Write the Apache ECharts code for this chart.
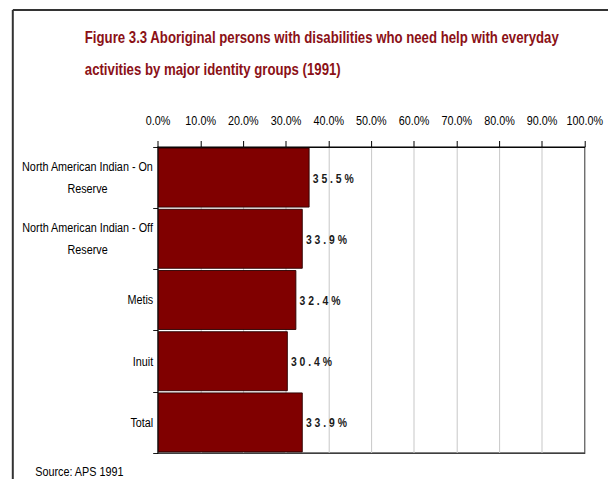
<!DOCTYPE html>
<html>
<head>
<meta charset="utf-8">
<script src="https://cdn.jsdelivr.net/npm/echarts@6/dist/echarts.min.js"></script>
<style>
  html, body { margin: 0; padding: 0; background: #fff; overflow: hidden; width: 608px; height: 479px; }
  /* The chart is laid out wide and squeezed horizontally to get condensed lettering */
  #chart { width: 760px; height: 479px; transform: scaleX(0.8); transform-origin: 0 0; }
</style>
</head>
<body>
<div id="chart"></div>
<script>
// Identity groups (top to bottom) and share needing help with everyday activities (%)
const categories = [
  'North American Indian - On\nReserve',
  'North American Indian - Off\nReserve',
  'Metis',
  'Inuit',
  'Total'
];
const values = [35.5, 33.9, 32.4, 30.4, 33.9];

const titleText = 'Figure 3.3 Aboriginal persons with disabilities who need help with everyday\nactivities by major identity groups (1991)';
const sourceText = 'Source: APS 1991';

const SX = 0.8;            // horizontal squeeze applied to the container
const vw = 1 / SX;         // keeps vertical strokes about 1px wide after the squeeze
const font = '"Liberation Sans", Arial, Helvetica, sans-serif';

const chart = echarts.init(document.getElementById('chart'), null, { renderer: 'svg' });

chart.setOption({
  backgroundColor: '#ffffff',
  animation: false,
  title: {
    text: titleText,
    left: 101,
    top: 16,
    textStyle: {
      fontFamily: font,
      fontSize: 16.5,
      fontWeight: 'bold',
      color: '#8b1117',
      lineHeight: 32
    }
  },
  grid: {
    left: 197.5,
    right: 29,
    top: 147,
    bottom: 26,
    show: true,
    borderColor: '#000',
    borderWidth: vw,
    containLabel: false,
    outerBoundsMode: 'none'
  },
  xAxis: {
    type: 'value',
    position: 'top',
    min: 0,
    max: 100,
    interval: 10,
    axisLine: { show: true, lineStyle: { color: '#000', width: 1 } },
    axisTick: { show: true, length: 6, lineStyle: { color: '#000', width: vw } },
    axisLabel: {
      margin: 19,
      fontFamily: font,
      fontSize: 13.5,
      color: '#000',
      formatter: v => v.toFixed(1) + '%'
    },
    splitLine: { show: true, lineStyle: { color: '#c8c8c8', width: vw } }
  },
  yAxis: {
    type: 'category',
    data: categories,
    inverse: true,
    axisLine: { show: true, lineStyle: { color: '#000', width: vw } },
    axisTick: { show: true, length: 6, lineStyle: { color: '#000', width: 1 } },
    axisLabel: {
      margin: 6,
      fontFamily: font,
      fontSize: 13.5,
      color: '#000',
      lineHeight: 22,
      formatter: v => v.indexOf('\n') >= 0
        ? v.split('\n').map(s => '{c|' + s + '}').join('\n')
        : v,
      rich: {
        c: { align: 'center', fontFamily: font, fontSize: 13.5, lineHeight: 22, color: '#000' }
      }
    }
  },
  series: [{
    type: 'bar',
    data: values,
    barCategoryGap: '2%',
    itemStyle: {
      color: '#800000',
      borderColor: '#2a0000',
      borderWidth: 1
    },
    label: {
      show: true,
      position: 'right',
      distance: 4,
      fontFamily: font,
      fontWeight: 'bold',
      fontSize: 13,
      color: '#1a1a1a',
      formatter: p => (p.value.toFixed(1) + '%').split('').join(' ')
    }
  }],
  graphic: [
    { type: 'line', shape: { x1: 16, y1: 10, x2: 760, y2: 10 }, style: { stroke: '#333', lineWidth: 2 } },
    { type: 'line', shape: { x1: 16, y1: 10, x2: 16, y2: 479 }, style: { stroke: '#333', lineWidth: 2 * vw } },
    {
      type: 'text',
      left: 44,
      top: 465,
      style: { text: sourceText, font: '13.5px ' + font, fill: '#000' }
    }
  ]
});
</script>
</body>
</html>
